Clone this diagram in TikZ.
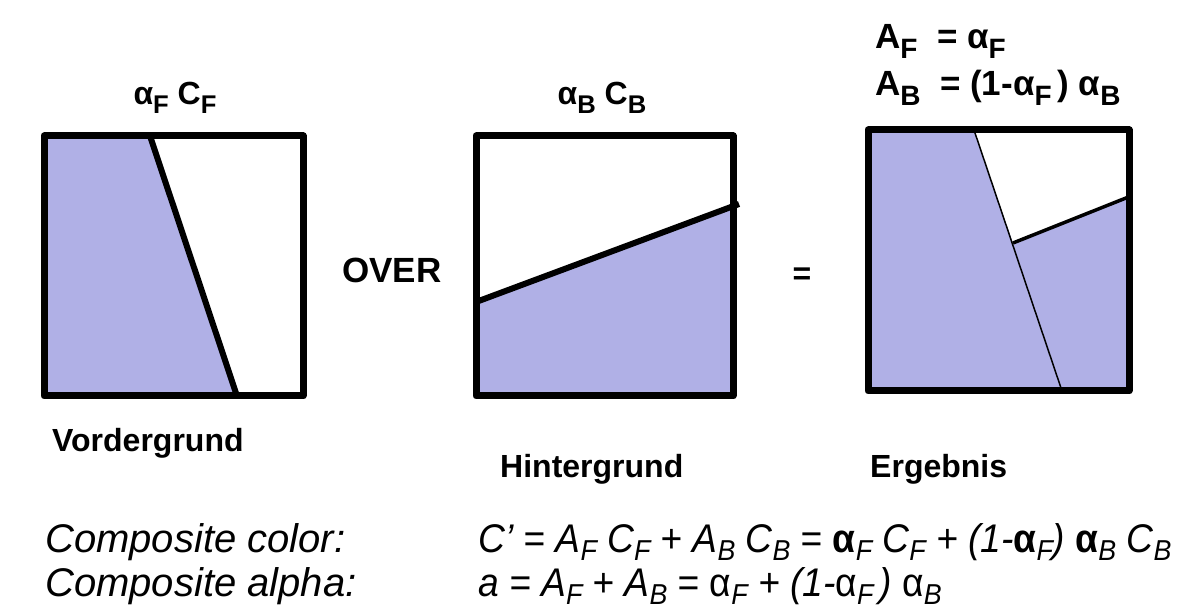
\documentclass[tikz,border=0pt]{standalone}
\usepackage{fontspec}
\setmainfont{Liberation Sans}
\usepackage{graphicx}
\usetikzlibrary{positioning}
\definecolor{lavender}{RGB}{176,176,230}
\newcommand{\sub}[1]{\raisebox{-0.26em}{\scalebox{0.8}{#1}}}
\newcommand{\isub}[1]{\raisebox{-0.22em}{\scalebox{0.72}{#1}}}
\newcommand{\ba}{\textbf{\textup{α}}}
\newcommand{\ra}{\textup{α}}
\tikzset{
  frame/.style ={draw=black, line width=7pt, line join=round},
  edge/.style  ={draw=black, line width=6pt},
  lbl/.style   ={font=\fontsize{32}{36}\selectfont\bfseries, inner sep=0pt},
  biglbl/.style={font=\fontsize{35}{40}\selectfont\bfseries, inner sep=0pt},
  form/.style  ={font=\fontsize{40}{44}\selectfont\itshape, inner sep=0pt, anchor=base west},
}
\begin{document}
\begin{tikzpicture}[x=1pt,y=-1pt]
\useasboundingbox (0,0) rectangle (1184,609);

% foreground
\fill[lavender] (44,136) -- (150,136) -- (237,396) -- (44,396) -- cycle;
\draw[edge] (150,136) -- (237,396);
\draw[frame] (44,136) rectangle (303,396);

% background
\fill[lavender] (476,302) -- (733,207) -- (733,396) -- (476,396) -- cycle;
\draw[edge] (476,302) -- (739,204);
\draw[frame] (476,136) rectangle (733,396);

% result
\fill[lavender] (868,130) rectangle (1129,391);
\fill[white] (974,130) -- (1013,243) -- (1129,197) -- (1129,130) -- cycle;
\draw[line width=1.5pt] (974,130) -- (1062,391);
\draw[line width=3.5pt] (1013,243) -- (1131,196);
\draw[frame] (868,130) rectangle (1129,391);

% labels
\node[lbl,anchor=base] (alphaF) at (175,105) {α\sub{F} C\sub{F}};
\node[lbl,anchor=base] (alphaB) at (602,105) {α\sub{B} C\sub{B}};
\node[biglbl,anchor=base west] (eqAF) at (875,49) {A\sub{F}\ \ = α\sub{F}};
\node[biglbl,anchor=base west] (eqAB) at (875,96) {A\sub{B}\ \ = (1-α\sub{F}\,) α\sub{B}};
\node[biglbl,anchor=base west] (over) at (342,283) {OVER};
\node[lbl,anchor=base] (equal) at (802,285) {=};
\node[lbl,anchor=base west] (vorder) at (52,452) {Vordergrund};
\node[lbl,anchor=base west] (hinter) at (500,478) {Hintergrund};
\node[lbl,anchor=base west] (ergeb) at (870,478) {Ergebnis};

% formulas
\node[form] (colname) at (45,552) {Composite color:};
\node[form] (alphname) at (45,596) {Composite alpha:};
\node[form] (colform) at (478,552) {\scalebox{0.93}[1]{C’ = A\isub{F} C\isub{F} + A\isub{B} C\isub{B} = \ba\isub{F} C\isub{F} + (1-\ba\isub{F}) \ba\isub{B} C\isub{B}}};
\node[form] (alphform) at (478,596) {\scalebox{0.93}[1]{a = A\isub{F} + A\isub{B} = \ra\isub{F} + (1-\ra\isub{F}\,) \ra\isub{B}}};
\end{tikzpicture}
\end{document}
